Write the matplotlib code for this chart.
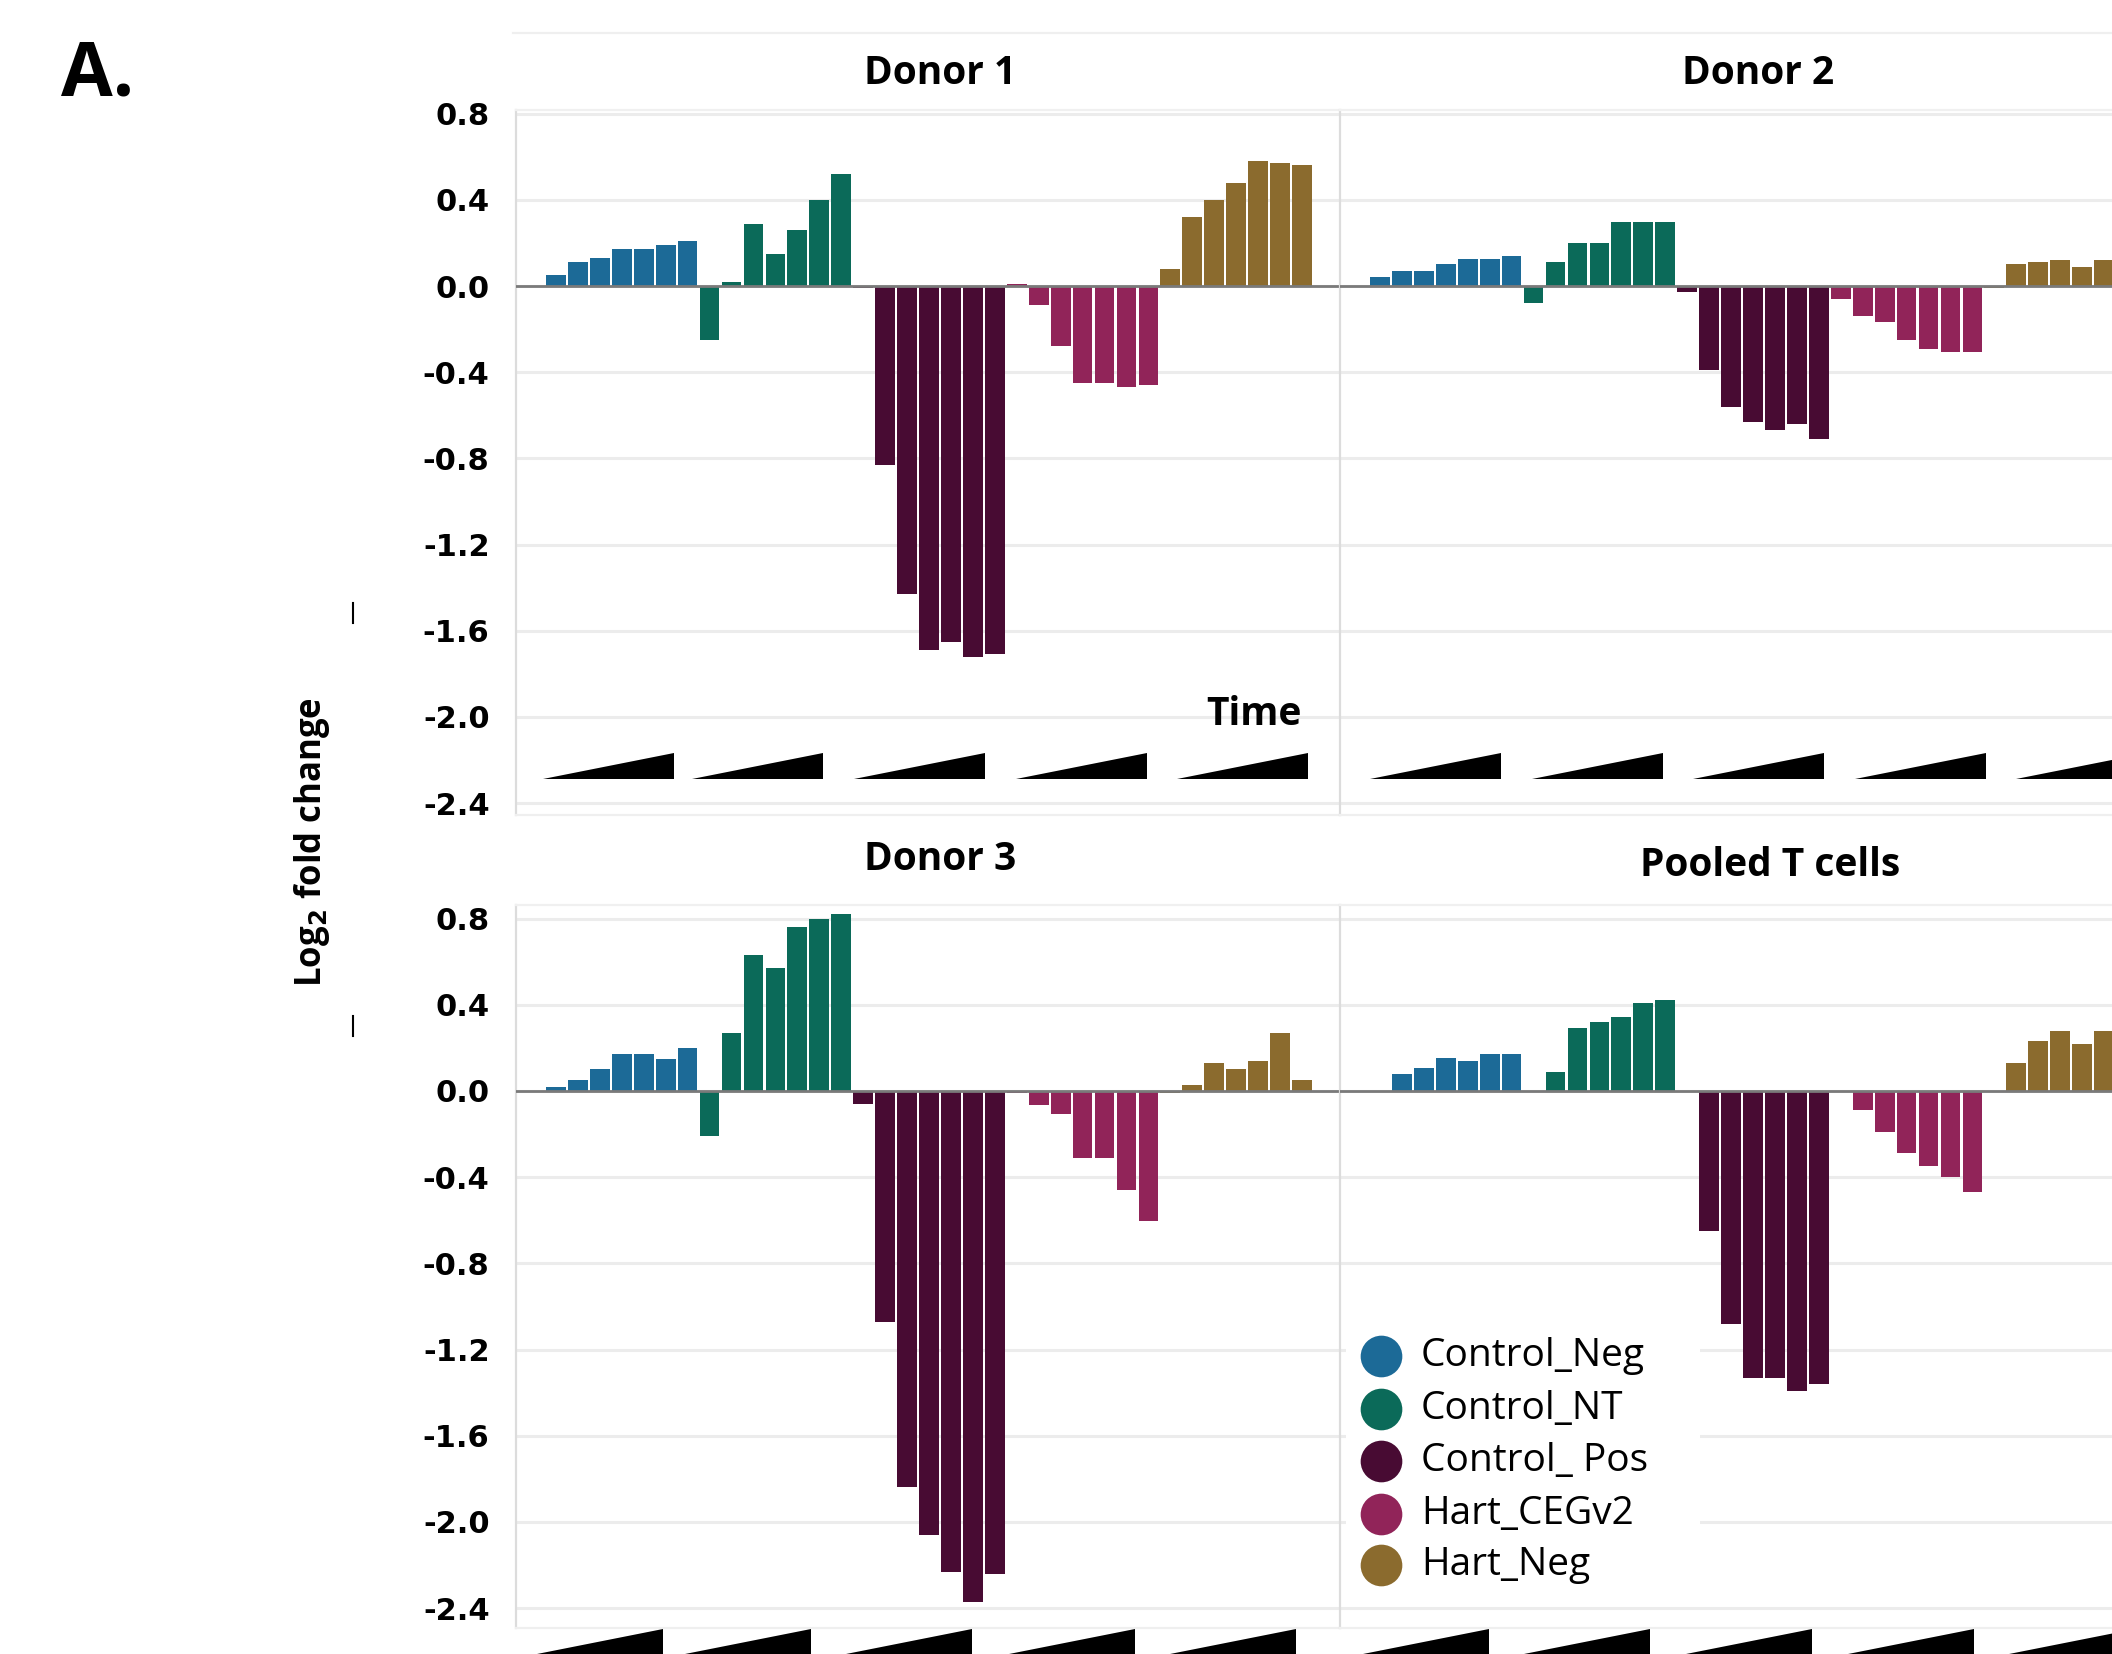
import matplotlib
matplotlib.use('Agg')
import matplotlib.pyplot as plt
from matplotlib.patches import Polygon, Rectangle
from matplotlib.lines import Line2D
import numpy as np

plt.rcParams['font.family'] = ['Open Sans', 'DejaVu Sans']
plt.rcParams['axes.unicode_minus'] = False

# ---------------- data ----------------
groups = ['Control_Neg', 'Control_NT', 'Control_ Pos', 'Hart_CEGv2', 'Hart_Neg']
colors = ['#1c6a97', '#0b6a59', '#480b33', '#912459', '#8b6b2e']
panels = ['Donor 1', 'Donor 2', 'Donor 3', 'Pooled T cells']

d1_neg = [0.05, 0.11, 0.13, 0.17, 0.17, 0.19, 0.21]
d1_nt = [-0.25, 0.02, 0.29, 0.15, 0.26, 0.40, 0.52]
d1_pos = [-0.01, -0.83, -1.43, -1.69, -1.65, -1.72, -1.71]
d1_ceg = [0.01, -0.09, -0.28, -0.45, -0.45, -0.47, -0.46]
d1_hneg = [0.08, 0.32, 0.40, 0.48, 0.58, 0.57, 0.56]

d2_neg = [0.04, 0.07, 0.07, 0.10, 0.125, 0.125, 0.14]
d2_nt = [-0.08, 0.11, 0.20, 0.20, 0.295, 0.295, 0.295]
d2_pos = [-0.03, -0.39, -0.56, -0.63, -0.67, -0.64, -0.71]
d2_ceg = [-0.06, -0.14, -0.165, -0.25, -0.29, -0.305, -0.305]
d2_hneg = [-0.01, 0.10, 0.11, 0.12, 0.09, 0.12, 0.12]

d3_neg = [0.02, 0.05, 0.10, 0.17, 0.17, 0.15, 0.20]
d3_nt = [-0.21, 0.27, 0.63, 0.57, 0.76, 0.80, 0.82]
d3_pos = [-0.06, -1.07, -1.84, -2.06, -2.23, -2.37, -2.24]
d3_ceg = [-0.01, -0.065, -0.105, -0.31, -0.31, -0.46, -0.605]
d3_hneg = [-0.01, 0.03, 0.13, 0.10, 0.14, 0.27, 0.05]

pt_neg = [0.0, 0.08, 0.105, 0.155, 0.14, 0.17, 0.17]
pt_nt = [0.0, 0.09, 0.29, 0.32, 0.345, 0.41, 0.42]
pt_pos = [0.0, -0.65, -1.08, -1.33, -1.33, -1.39, -1.36]
pt_ceg = [0.0, -0.09, -0.19, -0.29, -0.35, -0.40, -0.47]
pt_hneg = [0.0, 0.13, 0.23, 0.28, 0.22, 0.28, 0.29]

panel_data = [
    [d1_neg, d1_nt, d1_pos, d1_ceg, d1_hneg],
    [d2_neg, d2_nt, d2_pos, d2_ceg, d2_hneg],
    [d3_neg, d3_nt, d3_pos, d3_ceg, d3_hneg],
    [pt_neg, pt_nt, pt_pos, pt_ceg, pt_hneg],
]

yticks = [0.8, 0.4, 0.0, -0.4, -0.8, -1.2, -1.6, -2.0, -2.4]
ytick_labels = ['%.1f' % t for t in yticks]

# ---------------- layout (pixel based) ----------------
W, H = 2112, 1654
fig = plt.figure(figsize=(W / 100, H / 100), dpi=100)

col_left = [516, 1340]
col_w = 824
row_top = [110, 905]
row_bot = [815, 1628]
row_ylim = [(-2.455, 0.817), (-2.492, 0.863)]
xlim = (-1.82, 35.73)

wedge_starts = [
    [-0.59, 6.20, 13.60, 20.97, 28.31],
    [-0.45, 6.93, 14.27, 21.65, 28.99],
    [-1.09, 5.65, 13.00, 20.42, 27.76],
    [-1.00, 6.34, 13.72, 21.10, 28.44],
]
wedge_w = 5.97
wedge_y = [(-2.288, -2.167), (-2.617, -2.497)]

title_pos = [(0.515, 36), (0.507, 36), (0.515, 46), (0.522, 39)]

axes = []
for p in range(4):
    r, c = divmod(p, 2)
    left = col_left[c] / W
    bottom = 1 - row_bot[r] / H
    height = (row_bot[r] - row_top[r]) / H
    ax = fig.add_axes([left, bottom, col_w / W, height])
    axes.append(ax)
    ax.set_xlim(*xlim)
    ax.set_ylim(*row_ylim[r])
    ax.set_yticks(yticks)
    ax.set_xticks([])
    ax.yaxis.grid(True, color='#ececec', linewidth=2.2, zorder=0)
    ax.set_axisbelow(True)
    ax.spines['right'].set_visible(False)
    ax.spines['left'].set_color('#dcdcdc')
    ax.spines['left'].set_linewidth(1.6)
    ax.spines['top'].set_color('#f0f0f0')
    ax.spines['top'].set_linewidth(1.6)
    ax.spines['bottom'].set_color('#efefef')
    ax.spines['bottom'].set_linewidth(1.6)
    if c == 0:
        ax.set_yticklabels(ytick_labels, fontfamily='DejaVu Sans',
                           fontweight='bold', fontsize=22)
        ax.tick_params(axis='y', length=0, pad=19)
    else:
        ax.tick_params(axis='y', length=0, labelleft=False)

    for g, vals in enumerate(panel_data[p]):
        x = np.arange(len(vals)) + 7 * g
        ax.bar(x, vals, width=0.9, color=colors[g], linewidth=0, zorder=2)
    ax.axhline(0, color='#7a7a7a', linewidth=2.0, zorder=3)

    yb, yt = wedge_y[r]
    for x0 in wedge_starts[p]:
        tri = Polygon([(x0, yb), (x0 + wedge_w, yb), (x0 + wedge_w, yt)],
                      closed=True, facecolor='black', edgecolor='none',
                      clip_on=False, zorder=4)
        ax.add_patch(tri)

    tx, toff = title_pos[p]
    ty = 1 + toff / (row_bot[r] - row_top[r])
    ax.text(tx, ty, panels[p], transform=ax.transAxes, ha='center',
            va='center', fontsize=28, fontweight='bold')

# "Time" label on Donor 1
axes[0].text(34.0, -1.99, 'Time', ha='right', va='center',
             fontsize=28, fontweight='bold')

# legend in pooled panel
axL = axes[3]
ph = row_bot[1] - row_top[1]
def ax_y(py):
    return 1 - (py - row_top[1]) / ph
def ax_x(px):
    return (px - col_left[1]) / col_w
axL.add_patch(Rectangle((ax_x(1346), ax_y(1600)), ax_x(1700) - ax_x(1346),
                        ax_y(1326) - ax_y(1600), transform=axL.transAxes,
                        facecolor='white', edgecolor='none', zorder=5))
leg_y = [1356, 1409, 1461, 1514, 1565]
for g, name in enumerate(groups):
    axL.plot([ax_x(1381)], [ax_y(leg_y[g])], marker='o', markersize=30,
             color=colors[g], markeredgewidth=0, transform=axL.transAxes,
             clip_on=False, zorder=6)
    axL.text(ax_x(1421), ax_y(leg_y[g]), name, transform=axL.transAxes,
             ha='left', va='center', fontsize=28, zorder=6)

# figure-level text
fig.text(61 / W, 1 - 38 / H, 'A.', ha='left', va='top', fontsize=54,
         fontweight='bold')
fig.text(312 / W, 1 - 842 / H, r'Log$_{\mathbf{2}}$ fold change', rotation=90,
         ha='center', va='center', fontsize=25, fontweight='bold')

# faint top frame line and small artefact marks
fig.add_artist(Line2D([513 / W, 1.0], [1 - 33 / H, 1 - 33 / H],
                      transform=fig.transFigure, color='#efefef', lw=1.6))
for yy in [613, 1026]:
    fig.add_artist(Line2D([353 / W, 353 / W], [1 - (yy - 10) / H, 1 - (yy + 10) / H],
                          transform=fig.transFigure, color='black', lw=1.5))

fig.savefig('out.png', dpi=100)
